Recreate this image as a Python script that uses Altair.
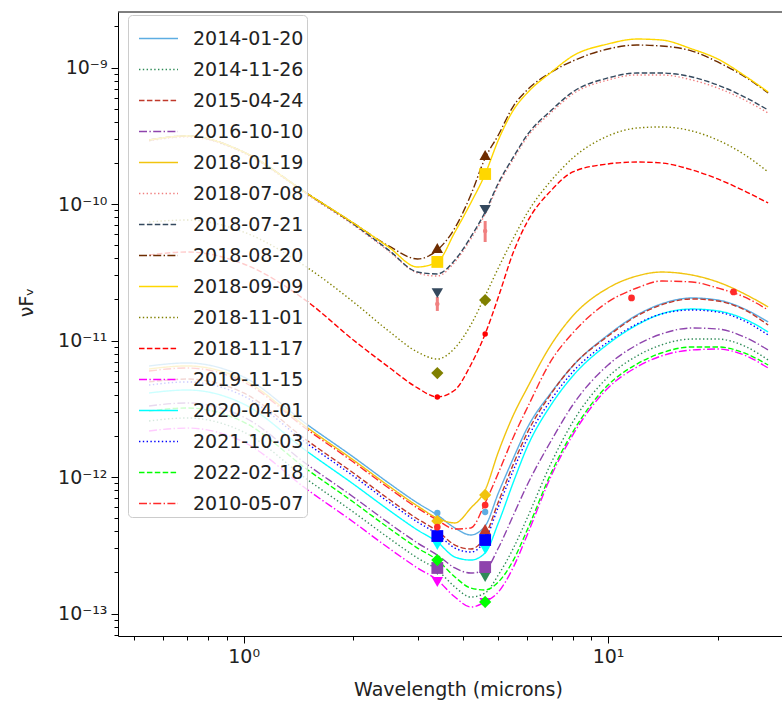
import altair as alt
import pandas as pd

# ---------------- series definitions ----------------
dates = ["2014-01-20", "2014-11-26", "2015-04-24", "2016-10-10", "2018-01-19",
         "2018-07-08", "2018-07-21", "2018-08-20", "2018-09-09", "2018-11-01",
         "2018-11-17", "2019-11-15", "2020-04-01", "2021-10-03", "2022-02-18",
         "2010-05-07"]
colors = ["#5DADE2", "#2E8B57", "#C0392B", "#8E44AD", "#F1C40F",
          "#F08080", "#34495E", "#6E2C00", "#FFD700", "#808000",
          "#FF0000", "#FF00FF", "#00FFFF", "#0000FF", "#00FF00",
          "#FF2A2A"]
SOLID, DOT, DASH, DASHDOT = [1, 0], [1.4, 2.4], [5.5, 2.4], [8, 2.4, 1.4, 2.4]
dashes = [SOLID, DOT, DASH, DASHDOT, SOLID, DOT, DASH, DASHDOT, SOLID, DOT,
          DASH, DASHDOT, SOLID, DOT, DASH, DASHDOT]
shapes = ["circle", "triangle-down", "triangle-up", "square", "diamond",
          "circle", "triangle-down", "triangle-up", "square", "diamond",
          "circle", "triangle-down", "triangle-down", "square", "diamond",
          "circle"]
marker_sizes = [40, 130, 130, 140, 150, 20, 130, 130, 140, 150,
                30, 130, 130, 140, 150, 45]

# model curves: wavelength grid (microns) and log10(nuF_nu)
wavelength = [0.55, 0.7, 1.0, 1.5, 2.0, 2.5, 3.0, 3.4, 3.8, 4.2, 4.6, 5.0, 5.5,
              6.0, 7.0, 8.0, 10.0, 12.0, 14.0, 17.0, 20.0, 24.0, 27.5]

lf_2014_01_20 = [-11.186, -11.164, -11.267, -11.619, -11.853, -12.043, -12.190, -12.278, -12.373, -12.424, -12.358, -12.117,
                 -11.860, -11.641, -11.377, -11.186, -10.959, -10.813, -10.732, -10.688, -10.703, -10.776, -10.864]
lf_2014_11_26 = [-11.589, -11.567, -11.670, -12.021, -12.256, -12.446, -12.593, -12.681, -12.805, -12.879, -12.849, -12.717,
                 -12.520, -12.300, -11.890, -11.597, -11.267, -11.113, -11.032, -10.989, -10.989, -11.047, -11.142]
lf_2015_04_24 = [-11.303, -11.282, -11.384, -11.736, -11.970, -12.161, -12.307, -12.395, -12.498, -12.527, -12.432, -12.183,
                 -11.904, -11.677, -11.384, -11.186, -10.967, -10.820, -10.739, -10.695, -10.710, -10.783, -10.886]
lf_2016_10_10 = [-11.479, -11.457, -11.560, -11.912, -12.146, -12.336, -12.483, -12.571, -12.666, -12.703, -12.681, -12.520,
                 -12.278, -12.058, -11.728, -11.472, -11.179, -11.032, -10.952, -10.908, -10.915, -10.981, -11.069]
lf_2018_01_19 = [-11.208, -11.186, -11.289, -11.641, -11.875, -12.065, -12.212, -12.300, -12.336, -12.227, -12.095, -11.816,
                 -11.545, -11.347, -11.025, -10.820, -10.615, -10.527, -10.498, -10.520, -10.571, -10.666, -10.754]
lf_2018_07_08 = [-9.538, -9.509, -9.626, -9.934, -10.153, -10.344, -10.505, -10.527, -10.424, -10.256, -10.073, -9.860,
                 -9.670, -9.509, -9.326, -9.194, -9.091, -9.054, -9.054, -9.091, -9.150, -9.245, -9.333]
lf_2018_07_21 = [-9.531, -9.501, -9.619, -9.926, -10.146, -10.337, -10.498, -10.512, -10.410, -10.241, -10.058, -9.846,
                 -9.655, -9.494, -9.311, -9.179, -9.076, -9.040, -9.040, -9.069, -9.128, -9.223, -9.311]
lf_2018_08_20 = [-9.531, -9.501, -9.619, -9.926, -10.139, -10.307, -10.402, -10.337, -10.175, -9.934, -9.663, -9.494,
                 -9.282, -9.164, -9.032, -8.952, -8.864, -8.835, -8.842, -8.879, -8.959, -9.076, -9.186]
lf_2018_09_09 = [-9.531, -9.501, -9.619, -9.926, -10.139, -10.315, -10.461, -10.424, -10.205, -9.992, -9.780, -9.531,
                 -9.311, -9.186, -9.032, -8.915, -8.827, -8.791, -8.798, -8.864, -8.937, -9.069, -9.179]
lf_2018_11_01 = [-10.131, -10.117, -10.205, -10.468, -10.717, -10.930, -11.084, -11.135, -11.054, -10.886, -10.673, -10.468,
                 -10.249, -10.065, -9.824, -9.663, -9.501, -9.443, -9.435, -9.465, -9.531, -9.648, -9.765]
lf_2018_11_17 = [-10.373, -10.351, -10.439, -10.717, -10.996, -11.194, -11.347, -11.413, -11.362, -11.179, -10.952, -10.681,
                 -10.351, -10.131, -9.897, -9.765, -9.706, -9.692, -9.699, -9.750, -9.816, -9.912, -9.992]
lf_2019_11_15 = [-11.662, -11.641, -11.743, -12.095, -12.329, -12.520, -12.666, -12.754, -12.879, -12.952, -12.915, -12.842,
                 -12.659, -12.424, -11.985, -11.692, -11.347, -11.194, -11.113, -11.069, -11.062, -11.113, -11.201]
lf_2020_04_01 = [-11.384, -11.362, -11.465, -11.816, -12.051, -12.241, -12.388, -12.476, -12.586, -12.608, -12.556, -12.336,
                 -12.036, -11.780, -11.465, -11.260, -11.025, -10.886, -10.805, -10.769, -10.783, -10.849, -10.937]
lf_2021_10_03 = [-11.326, -11.303, -11.406, -11.758, -11.992, -12.183, -12.329, -12.417, -12.520, -12.549, -12.461, -12.219,
                 -11.948, -11.721, -11.428, -11.230, -11.010, -10.879, -10.805, -10.776, -10.791, -10.864, -10.959]
lf_2022_02_18 = [-11.516, -11.494, -11.597, -11.948, -12.183, -12.373, -12.520, -12.608, -12.732, -12.813, -12.827, -12.769,
                 -12.608, -12.388, -11.963, -11.670, -11.326, -11.172, -11.091, -11.047, -11.047, -11.098, -11.179]
lf_2010_05_07 = [-11.223, -11.201, -11.303, -11.655, -11.890, -12.080, -12.227, -12.315, -12.380, -12.373, -12.190, -11.970,
                 -11.706, -11.494, -11.142, -10.945, -10.717, -10.615, -10.564, -10.571, -10.615, -10.688, -10.776]

curve_logflux = {
    "2014-01-20": lf_2014_01_20, "2014-11-26": lf_2014_11_26, "2015-04-24": lf_2015_04_24,
    "2016-10-10": lf_2016_10_10, "2018-01-19": lf_2018_01_19, "2018-07-08": lf_2018_07_08,
    "2018-07-21": lf_2018_07_21, "2018-08-20": lf_2018_08_20, "2018-09-09": lf_2018_09_09,
    "2018-11-01": lf_2018_11_01, "2018-11-17": lf_2018_11_17, "2019-11-15": lf_2019_11_15,
    "2020-04-01": lf_2020_04_01, "2021-10-03": lf_2021_10_03, "2022-02-18": lf_2022_02_18,
    "2010-05-07": lf_2010_05_07,
}

# photometry (WISE bands)
phot_date = ["2014-01-20", "2014-01-20", "2014-11-26", "2014-11-26", "2015-04-24", "2015-04-24",
             "2016-10-10", "2016-10-10", "2018-01-19", "2018-01-19", "2018-07-08", "2018-07-08",
             "2018-07-21", "2018-07-21", "2018-08-20", "2018-08-20", "2018-09-09", "2018-09-09",
             "2018-11-01", "2018-11-01", "2018-11-17", "2018-11-17", "2019-11-15", "2019-11-15",
             "2020-04-01", "2020-04-01", "2021-10-03", "2021-10-03", "2022-02-18", "2022-02-18",
             "2010-05-07", "2010-05-07", "2010-05-07", "2010-05-07"]
phot_wave = [3.4, 4.6, 3.4, 4.6, 3.4, 4.6, 3.4, 4.6, 3.4, 4.6, 3.4, 4.6, 3.4, 4.6, 3.4, 4.6, 3.4, 4.6,
             3.4, 4.6, 3.4, 4.6, 3.4, 4.6, 3.4, 4.6, 3.4, 4.6, 3.4, 4.6, 3.4, 4.6, 11.6, 22.1]
phot_logflux = [-12.263, -12.256, -12.681, -12.732, -12.410, -12.380, -12.666, -12.659, -12.322, -12.131,
                -10.732, -10.197, -10.652, -10.043, -10.322, -9.641, -10.424, -9.780, -11.238, -10.703,
                -11.413, -10.952, -12.769, -12.923, -12.498, -12.527, -12.432, -12.461, -12.608, -12.915,
                -12.366, -12.205, -10.688, -10.644]

# error bars (2018-07-08)
err_date = ["2018-07-08", "2018-07-08"]
err_wave = [3.4, 4.6]
err_low = [-10.783, -10.278]
err_high = [-10.681, -10.124]

# ---------------- tables ----------------
rows = []
for d in dates:
    for i, (w, lf) in enumerate(zip(wavelength, curve_logflux[d])):
        rows.append({"date": d, "wavelength": w, "flux": 10 ** lf, "i": i})
curves = pd.DataFrame(rows)
size_of = dict(zip(dates, marker_sizes))
phot = pd.DataFrame({"date": phot_date, "wavelength": phot_wave,
                     "flux": [10 ** v for v in phot_logflux]})
phot["msize"] = phot["date"].map(size_of)
errs = pd.DataFrame({"date": err_date, "wavelength": err_wave,
                     "lo": [10 ** v for v in err_low], "hi": [10 ** v for v in err_high]})

FONT = "DejaVu Sans"
W, H = 664, 624
xdom = [0.452, 30.02]
ydom = [6.85e-14, 2.553e-9]

xticks = [0.5, 0.6, 0.7, 0.8, 0.9, 1, 2, 3, 4, 5, 6, 7, 8, 9, 10, 20, 30]
yticks = [m * 10.0 ** k for k in range(-14, -8) for m in range(1, 10)
          if ydom[0] <= m * 10.0 ** k <= ydom[1]]

major_test = "abs(log(datum.value)/LN10 - round(log(datum.value)/LN10)) < 0.01"
ylabel_expr = ("abs(log(datum.value)/LN10 + 9) < 0.01 ? '10⁻⁹' : "
               "abs(log(datum.value)/LN10 + 10) < 0.01 ? '10⁻¹⁰' : "
               "abs(log(datum.value)/LN10 + 11) < 0.01 ? '10⁻¹¹' : "
               "abs(log(datum.value)/LN10 + 12) < 0.01 ? '10⁻¹²' : "
               "abs(log(datum.value)/LN10 + 13) < 0.01 ? '10⁻¹³' : ''")
xlabel_expr = "abs(datum.value - 1) < 0.001 ? '10⁰' : abs(datum.value - 10) < 0.001 ? '10¹' : ''"

xscale = alt.Scale(type="log", domain=xdom, nice=False, zero=False)
yscale = alt.Scale(type="log", domain=ydom, nice=False, zero=False)

xenc = alt.X("wavelength:Q", scale=xscale,
             axis=alt.Axis(values=xticks, labelExpr=xlabel_expr,
                           tickSize={"condition": {"test": major_test, "value": 7}, "value": 4},
                           title="Wavelength (microns)", titleX=340, titleY=59,
                           titleBaseline="alphabetic", titleAlign="center",
                           labelPadding=4, labelFlush=False, labelOverlap=False))
yenc = alt.Y("flux:Q", scale=yscale,
             axis=alt.Axis(values=yticks, labelExpr=ylabel_expr,
                           tickSize={"condition": {"test": major_test, "value": 7}, "value": 4},
                           title="νFᵥ", titleX=-86, titleY=290, titleBaseline="alphabetic",
                           labelPadding=4, labelOverlap=False, labelFlush=False))

color_scale = alt.Scale(domain=dates, range=colors)
dash_scale = alt.Scale(domain=dates, range=dashes)
legend = alt.Legend(title=None, orient="none", legendX=10, legendY=3,
                    symbolType="stroke", symbolSize=1520, symbolStrokeWidth=1.4,
                    symbolOffset=7, labelFontSize=19, labelFont=FONT, labelColor="#222222",
                    labelOffset=14, labelLimit=400, rowPadding=-1, padding=3,
                    fillColor="rgba(255,255,255,0.8)", strokeColor="#cccccc",
                    cornerRadius=4)

lines = alt.Chart(curves).mark_line(strokeWidth=1.4, interpolate="monotone", clip=True).encode(
    x=xenc, y=yenc,
    color=alt.Color("date:N", scale=color_scale, legend=legend, sort=dates),
    strokeDash=alt.StrokeDash("date:N", scale=dash_scale, legend=legend, sort=dates),
    order="i:Q",
)

errbars = alt.Chart(errs).mark_rule(strokeWidth=3, clip=True).encode(
    x="wavelength:Q", y="lo:Q", y2="hi:Q",
    color=alt.Color("date:N", scale=color_scale, legend=None),
)

points = alt.Chart(phot).mark_point(filled=True, opacity=1, clip=True).encode(
    x="wavelength:Q", y="flux:Q",
    color=alt.Color("date:N", scale=color_scale, legend=None),
    shape=alt.Shape("date:N", scale=alt.Scale(domain=dates, range=shapes), legend=None),
    size=alt.Size("msize:Q", scale=None, legend=None),
)

top_spine = alt.Chart(pd.DataFrame({"k": [0]})).mark_rule(color="black", strokeWidth=1).encode(
    x=alt.value(0), x2=alt.value(W), y=alt.value(0)
)

chart = alt.layer(lines, errbars, points, top_spine).resolve_legend(
    shape="independent"
).properties(
    width=W, height=H,
    autosize=alt.AutoSizeParams(type="none"),
    padding={"left": 118, "top": 12, "right": 0, "bottom": 68},
    background="white",
).configure_view(stroke=None).configure_axis(
    grid=False, domainColor="black", domainWidth=1, tickColor="black", tickWidth=1,
    labelFont=FONT, labelFontSize=19, labelColor="#222222",
    titleFont=FONT, titleFontSize=19, titleFontWeight="normal", titleColor="#222222",
)

chart.save("out.html", embed_options={"renderer": "svg", "actions": False})
